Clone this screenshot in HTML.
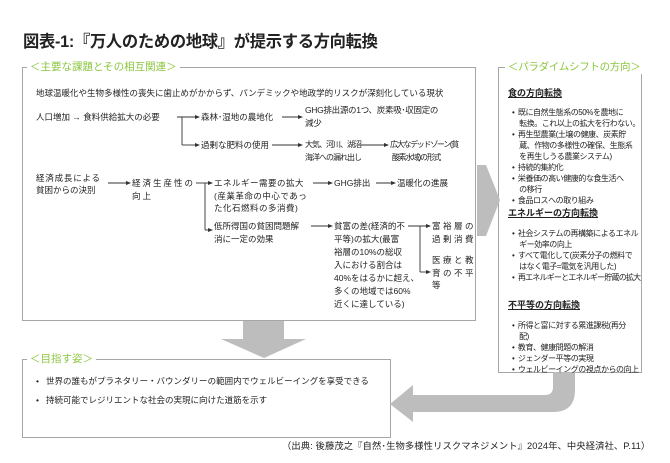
<!DOCTYPE html>
<html><head><meta charset="utf-8"><style>
body{margin:0;width:670px;height:463px;background:#fff;position:relative;overflow:hidden;font-family:"Liberation Sans","Noto Sans CJK JP",sans-serif;color:#222}
.t{position:absolute;white-space:nowrap;font-size:8.5px;line-height:12.5px}
.g{position:absolute;color:#8cc63f;font-size:10.5px;background:#fff;white-space:nowrap;padding:0 3px}
.b{position:absolute;border:1.5px solid #a6a6a6}
.r{position:absolute;font-size:8px;line-height:11px;white-space:nowrap;letter-spacing:-0.45px}
.h{position:absolute;font-size:9px;font-weight:bold;text-decoration:underline;white-space:nowrap}
</style></head><body>
<div style="position:absolute;left:23px;top:28px;font-size:16.3px;font-weight:bold;white-space:nowrap;letter-spacing:-0.3px">図表-1:『万人のための地球』が提示する方向転換</div>

<div class="b" style="left:22px;top:67px;width:452px;height:252px"></div>
<div class="g" style="left:27px;top:59px">＜主要な課題とその相互関連＞</div>
<div class="b" style="left:498px;top:67px;width:142px;height:304px"></div>
<div class="g" style="left:505px;top:59px;letter-spacing:-0.3px">＜パラダイムシフトの方向＞</div>
<div class="b" style="left:22px;top:359px;width:367px;height:77px"></div>
<div class="g" style="left:27px;top:351px">＜目指す姿＞</div>

<svg style="position:absolute;left:0;top:0" width="670" height="463">
<g fill="#bdbdbd">
<polygon points="243,321 284,321 284,339 306,339 264,358 221,339 243,339"/>
<polygon points="477,165 486,165 500,200 486,236 477,236"/>
<path d="M553,372 L575,372 L575,390 Q575,412 553,412 L413,412 L413,422 L390,404 L413,385 L413,395 L545,395 Q553,395 553,387 Z"/>
</g>
<g stroke="#333" stroke-width="0.9" fill="none">
<line x1="177" y1="117" x2="198" y2="117"/><line x1="182" y1="117" x2="182" y2="145"/><line x1="182" y1="145" x2="198" y2="145"/>
<line x1="282" y1="117" x2="300" y2="117"/>
<line x1="272" y1="145" x2="300" y2="145"/>
<line x1="358" y1="145" x2="386" y2="145"/>
<line x1="108" y1="183" x2="128" y2="183"/>
<line x1="196" y1="183" x2="210" y2="183"/><line x1="205" y1="183" x2="205" y2="230"/><line x1="205" y1="230" x2="210" y2="230"/>
<line x1="313" y1="183" x2="330" y2="183"/>
<line x1="376" y1="183" x2="393" y2="183"/>
<line x1="311" y1="226" x2="330" y2="226"/>
<line x1="408" y1="226" x2="428" y2="226"/><line x1="420" y1="226" x2="420" y2="272"/><line x1="420" y1="272" x2="428" y2="272"/>
</g>
<g fill="#333">
<polygon points="200,117 195,115 195,119"/><polygon points="200,145 195,143 195,147"/>
<polygon points="303,117 298,115 298,119"/><polygon points="303,145 298,143 298,147"/>
<polygon points="389,145 384,143 384,147"/><polygon points="131,183 126,181 126,185"/>
<polygon points="213,183 208,181 208,185"/><polygon points="213,230 208,228 208,232"/>
<polygon points="333,183 328,181 328,185"/><polygon points="396,183 391,181 391,185"/>
<polygon points="333,226 328,224 328,228"/><polygon points="431,226 426,224 426,228"/><polygon points="431,272 426,270 426,274"/>
</g>
</svg>

<div class="t" style="left:36px;top:87px">地球温暖化や生物多様性の喪失に歯止めがかからず、パンデミックや地政学的リスクが深刻化している現状</div>
<div class="t" style="left:36px;top:111px">人口増加 → 食料供給拡大の必要</div>
<div class="t" style="left:201px;top:111px">森林･湿地の農地化</div>
<div class="t" style="left:305px;top:104px;letter-spacing:-0.3px">GHG排出源の1つ、炭素吸･収固定の<br>減少</div>
<div class="t" style="left:201px;top:139px">過剰な肥料の使用</div>
<div class="t" style="left:305px;top:139px;font-size:8px;letter-spacing:-1px">大気、河川、湖沼<br>海洋への漏れ出し</div>
<div class="t" style="left:390px;top:139px;font-size:8px;letter-spacing:-1.3px">広大なデッドゾーン(貧<br>&nbsp;&nbsp;酸素水域)の形式</div>
<div class="t" style="left:36px;top:172px;letter-spacing:0.8px">経済成長による</div>
<div class="t" style="left:36px;top:184px">貧困からの決別</div>
<div class="t" style="left:132px;top:177px;letter-spacing:2px">経済生産性の<br>向上</div>
<div class="t" style="left:214px;top:177px;letter-spacing:0.5px">エネルギー需要の拡大<br>(産業革命の中心であっ<br>た化石燃料の多消費)</div>
<div class="t" style="left:334px;top:177px">GHG排出</div>
<div class="t" style="left:397px;top:177px">温暖化の進展</div>
<div class="t" style="left:214px;top:220px">低所得国の貧困問題解<br>消に一定の効果</div>
<div class="t" style="left:334px;top:220px;line-height:13px">貧富の差(経済的不<br>平等)の拡大(最富<br>裕層の10%の総収<br>入における割合は<br>40%をはるかに超え、<br>多くの地域では60%<br>近くに達している)</div>
<div class="t" style="left:432px;top:220px;letter-spacing:2.5px">富裕層の<br>過剰消費</div>
<div class="t" style="left:432px;top:254px;letter-spacing:2.5px">医療と教<br>育の不平<br>等</div>

<div class="h" style="left:508px;top:86px">食の方向転換</div>
<div class="r" style="left:512px;top:107px">•&nbsp;&nbsp;既に自然生態系の50%を農地に<br>&nbsp;&nbsp;&nbsp;&nbsp;転換。これ以上の拡大を行わない。<br>•&nbsp;&nbsp;再生型農業(土壌の健康、炭素貯<br>&nbsp;&nbsp;&nbsp;&nbsp;蔵、作物の多様性の確保、生態系<br>&nbsp;&nbsp;&nbsp;&nbsp;を再生しうる農業システム)<br>•&nbsp;&nbsp;持続的集約化<br>•&nbsp;&nbsp;栄養価の高い健康的な食生活へ<br>&nbsp;&nbsp;&nbsp;&nbsp;の移行<br>•&nbsp;&nbsp;食品ロスへの取り組み</div>
<div class="h" style="left:508px;top:206px">エネルギーの方向転換</div>
<div class="r" style="left:512px;top:228px">•&nbsp;&nbsp;社会システムの再構築によるエネル<br>&nbsp;&nbsp;&nbsp;&nbsp;ギー効率の向上<br>•&nbsp;&nbsp;すべて電化して(炭素分子の燃料で<br>&nbsp;&nbsp;&nbsp;&nbsp;はなく電子=電気を汎用した)<br>•&nbsp;&nbsp;<span style="letter-spacing:-0.8px">再エネルギーとエネルギー貯蔵の拡大</span></div>
<div class="h" style="left:508px;top:298px">不平等の方向転換</div>
<div class="r" style="left:512px;top:320px">•&nbsp;&nbsp;所得と富に対する累進課税(再分<br>&nbsp;&nbsp;&nbsp;&nbsp;配)<br>•&nbsp;&nbsp;教育、健康問題の解消<br>•&nbsp;&nbsp;ジェンダー平等の実現<br>•&nbsp;&nbsp;ウェルビーイングの視点からの向上</div>

<div class="t" style="left:36px;top:375px">•&nbsp;&nbsp;&nbsp;世界の誰もがプラネタリー・バウンダリーの範囲内でウェルビーイングを享受できる</div>
<div class="t" style="left:36px;top:394px">•&nbsp;&nbsp;&nbsp;持続可能でレジリエントな社会の実現に向けた道筋を示す</div>
<div class="t" style="left:282px;top:440px;font-size:9.3px;letter-spacing:0.1px">（出典: 後藤茂之『自然･生物多様性リスクマネジメント』2024年、中央経済社、P.11）</div>
</body></html>
